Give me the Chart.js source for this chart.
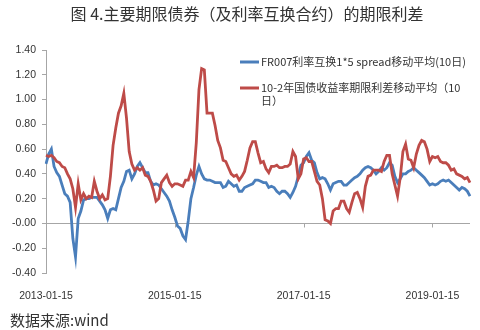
<!DOCTYPE html>
<html>
<head>
<meta charset="utf-8">
<script src="https://cdn.jsdelivr.net/npm/chart.js@4.4.1/dist/chart.umd.min.js"></script>
<style>
    html, body { margin: 0; padding: 0; background: #fff; }
</style>
</head>
<body>
<canvas id="chart-term-spread" width="480" height="330"></canvas>
<script>
const chartTitle = '图 4.主要期限债券（及利率互换合约）的期限利差';
const sourceNote = '数据来源:wind';
const tickLabels = ['2013-01-15', '2015-01-15', '2017-01-15', '2019-01-15'];
const swapLabel = 'FR007利率互换1*5 spread移动平均(10日)';
const bondLabel = ['10-2年国债收益率期限利差移动平均（10', '日）'];

// half-monthly readings, 2013-01-15 .. 2019-08
const swapSpread = [
    0.48, 0.56, 0.60, 0.46, 0.41, 0.38, 0.31, 0.24, 0.22, 0.17,
    -0.12, -0.27, 0.04, 0.10, 0.19, 0.20, 0.20, 0.21, 0.21, 0.21,
    0.18, 0.15, 0.11, 0.04, 0.11, 0.12, 0.11, 0.20, 0.29, 0.34,
    0.42, 0.43, 0.36, 0.40, 0.46, 0.49, 0.45, 0.41, 0.41, 0.34,
    0.31, 0.32, 0.31, 0.28, 0.25, 0.22, 0.18, 0.11, 0.05, -0.02,
    -0.04, -0.10, -0.13, 0.02, 0.20, 0.29, 0.39, 0.46, 0.40, 0.36,
    0.35, 0.35, 0.34, 0.33, 0.33, 0.33, 0.29, 0.30, 0.34, 0.32,
    0.30, 0.31, 0.26, 0.26, 0.29, 0.30, 0.31, 0.32, 0.35, 0.35,
    0.34, 0.33, 0.33, 0.29, 0.30, 0.29, 0.26, 0.24, 0.26, 0.26,
    0.24, 0.21, 0.25, 0.30, 0.38, 0.47, 0.49, 0.54, 0.57, 0.51,
    0.49, 0.41, 0.36, 0.37, 0.36, 0.32, 0.27, 0.32, 0.33, 0.34,
    0.34, 0.31, 0.31, 0.33, 0.35, 0.37, 0.38, 0.40, 0.43, 0.45,
    0.46, 0.45, 0.43, 0.40, 0.42, 0.45, 0.43, 0.45, 0.49, 0.47,
    0.38, 0.33, 0.36, 0.40, 0.40, 0.42, 0.43, 0.45, 0.43, 0.41,
    0.39, 0.37, 0.34, 0.31, 0.32, 0.31, 0.32, 0.34, 0.35, 0.34,
    0.35, 0.33, 0.31, 0.29, 0.27, 0.29, 0.28, 0.26, 0.22,
];
const bondSpread = [
    0.55, 0.54, 0.55, 0.53, 0.50, 0.49, 0.46, 0.45, 0.40, 0.36,
    0.28, 0.13, 0.32, 0.19, 0.24, 0.20, 0.22, 0.21, 0.34, 0.26,
    0.20, 0.23, 0.19, 0.20, 0.38, 0.63, 0.77, 0.89, 0.95, 1.05,
    0.85, 0.58, 0.48, 0.43, 0.45, 0.43, 0.45, 0.39, 0.38, 0.34,
    0.27, 0.18, 0.20, 0.33, 0.36, 0.39, 0.33, 0.30, 0.32, 0.32,
    0.31, 0.30, 0.35, 0.35, 0.42, 0.37, 0.65, 1.08, 1.25, 1.24,
    0.89, 0.89, 0.89, 0.79, 0.67, 0.61, 0.51, 0.50, 0.45, 0.40,
    0.38, 0.39, 0.35, 0.38, 0.42, 0.51, 0.61, 0.66, 0.66, 0.57,
    0.49, 0.50, 0.44, 0.41, 0.46, 0.46, 0.47, 0.45, 0.45, 0.46,
    0.46, 0.48, 0.58, 0.54, 0.36, 0.40, 0.52, 0.53, 0.50, 0.50,
    0.42, 0.34, 0.31, 0.20, 0.03, 0.02, 0.00, 0.10, 0.12, 0.12,
    0.18, 0.18, 0.12, 0.09, 0.17, 0.24, 0.25, 0.20, 0.13, 0.30,
    0.38, 0.39, 0.43, 0.43, 0.43, 0.42, 0.50, 0.55, 0.55, 0.40,
    0.31, 0.22, 0.37, 0.58, 0.64, 0.52, 0.51, 0.45, 0.56, 0.63,
    0.67, 0.66, 0.60, 0.50, 0.54, 0.53, 0.54, 0.50, 0.49, 0.49,
    0.47, 0.43, 0.44, 0.40, 0.39, 0.38, 0.36, 0.37, 0.33,
];

// 15th and month end of each month
const dates = swapSpread.map((v, i) => {
    const m = Math.floor(i / 2);
    const year = 2013 + Math.floor(m / 12);
    const month = m % 12 + 1;
    const day = i % 2 ? new Date(year, month, 0).getDate() : 15;
    return year + '-' + String(month).padStart(2, '0') + '-' + String(day).padStart(2, '0');
});

const axisGray = '#A6A6A6';
const textColor = '#333333';
const cjkFont = '"Noto Sans CJK SC", "Noto Sans", sans-serif';
const numFont = '"Liberation Sans", Arial, sans-serif';

const decorations = {
    id: 'decorations',
    afterDraw(chart) {
        const ctx = chart.ctx;
        const x = chart.scales.x;
        const y = chart.scales.y;
        ctx.save();

        // little tick marks hanging under the zero line
        const y0 = Math.round(y.getPixelForValue(0)) + 0.5;
        ctx.strokeStyle = axisGray;
        ctx.lineWidth = 1;
        tickLabels.forEach(label => {
            const idx = dates.indexOf(label);
            if (idx <= 0) {
                return;
            }
            const px = Math.round(x.getPixelForValue(idx)) + 0.5;
            ctx.beginPath();
            ctx.moveTo(px, y0);
            ctx.lineTo(px, y0 + 4);
            ctx.stroke();
        });

        ctx.fillStyle = textColor;
        ctx.textBaseline = 'middle';

        ctx.font = '16px ' + cjkFont;
        ctx.textAlign = 'center';
        ctx.fillText(chartTitle, 247, 14);

        ctx.font = '15px ' + cjkFont;
        ctx.textAlign = 'left';
        ctx.fillText(sourceNote, 10, 320);

        // legend, top right inside the plot
        const rows = [62, 88];
        ctx.font = '11px ' + cjkFont;
        chart.data.datasets.forEach((ds, i) => {
            const ly = rows[i];
            ctx.strokeStyle = ds.borderColor;
            ctx.lineWidth = 3;
            ctx.beginPath();
            ctx.moveTo(240, ly);
            ctx.lineTo(259, ly);
            ctx.stroke();
            const lines = Array.isArray(ds.label) ? ds.label : [ds.label];
            lines.forEach((t, j) => ctx.fillText(t, 261, ly + j * 13));
        });

        ctx.restore();
    },
};

new Chart(document.getElementById('chart-term-spread'), {
    type: 'line',
    data: {
        labels: dates,
        datasets: [{
            label: swapLabel,
            data: swapSpread,
            borderColor: '#4A7EBB',
            borderWidth: 2.8,
            pointRadius: 0,
            order: 1,
        }, {
            label: bondLabel,
            data: bondSpread,
            borderColor: '#BE4B48',
            borderWidth: 2.8,
            pointRadius: 0,
            order: 0,
        }],
    },
    options: {
        responsive: false,
        animation: false,
        devicePixelRatio: 1,
        layout: {
            padding: { top: 50, right: 10, left: 0, bottom: 0 },
        },
        plugins: {
            legend: { display: false },
            tooltip: { enabled: false },
        },
        scales: {
            x: {
                offset: false,
                grid: { display: false },
                border: { display: false },
                ticks: {
                    autoSkip: false,
                    maxRotation: 0,
                    padding: 9,
                    color: textColor,
                    font: { size: 10.5, family: numFont },
                    callback(value) {
                        const label = this.getLabelForValue(value);
                        return tickLabels.includes(label) ? label : null;
                    },
                },
                afterFit(scale) {
                    scale.height = 57;
                },
            },
            y: {
                min: -0.4,
                max: 1.4,
                border: { color: axisGray },
                grid: {
                    color: c => (c.tick && Math.abs(c.tick.value) < 1e-9 ? axisGray : 'rgba(0,0,0,0)'),
                    tickColor: axisGray,
                    tickLength: 4,
                },
                ticks: {
                    stepSize: 0.2,
                    padding: 6,
                    color: textColor,
                    font: { size: 10.5, family: numFont },
                    callback: v => v.toFixed(2),
                },
                afterFit(scale) {
                    scale.width = 46;
                },
            },
        },
    },
    plugins: [decorations],
});
</script>
</body>
</html>
